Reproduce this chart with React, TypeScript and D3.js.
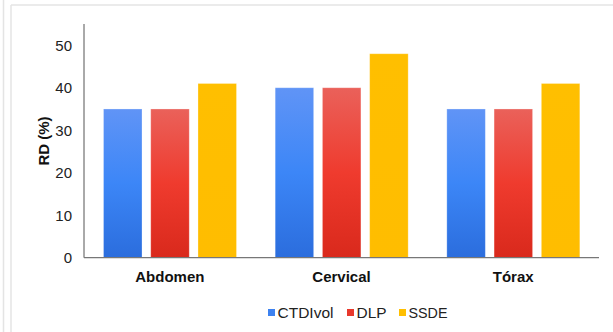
import React from "react";
import * as d3 from "d3";

const categories = ["Abdomen", "Cervical", "Tórax"];
const seriesNames = ["CTDIvol", "DLP", "SSDE"];
const ctdivol = [35, 40, 35];
const dlp = [35, 40, 35];
const ssde = [41, 48, 41];
const yTicks = [0, 10, 20, 30, 40, 50];

const values = [ctdivol, dlp, ssde];
const fills = ["url(#gBlue)", "url(#gRed)", "url(#gYellow)"];
const legendColors = ["#3d82f0", "#e8382c", "#ffbf00"];

export default function App() {
  const W = 613, H = 332;
  const left = 84, right = 599, top = 24, base = 257.7;
  const x0 = d3.scaleBand<string>().domain(categories).range([left, right]).paddingInner(0).paddingOuter(0);
  const x1 = d3.scaleBand<string>().domain(seriesNames).range([19.5, 152.5]).paddingInner(0.185).paddingOuter(0);
  const y = d3.scaleLinear().domain([0, 55]).range([base, top]);
  const font = "'Liberation Sans', Arial, Helvetica, sans-serif";

  const legendX = [268, 347, 399];
  const legendTextW = [56, 30, 39];

  return (
    <svg width={W} height={H} style={{ position: "absolute", left: 0, top: 0, background: "#fff" }} fontFamily={font}>
      <defs>
        <linearGradient id="gBlue" x1="0" y1="0" x2="0" y2="1">
          <stop offset="0" stopColor="#6094f6" />
          <stop offset="0.5" stopColor="#3c86f7" />
          <stop offset="1" stopColor="#2b6ddd" />
        </linearGradient>
        <linearGradient id="gRed" x1="0" y1="0" x2="0" y2="1">
          <stop offset="0" stopColor="#ea615a" />
          <stop offset="0.5" stopColor="#ef3b2e" />
          <stop offset="1" stopColor="#d9291c" />
        </linearGradient>
        <linearGradient id="gYellow" x1="0" y1="0" x2="0" y2="1">
          <stop offset="0" stopColor="#ffbf00" />
          <stop offset="1" stopColor="#ffbd00" />
        </linearGradient>
      </defs>
      {/* frame lines */}
      <line x1={3.5} y1={0} x2={3.5} y2={H} stroke="#e4e4e4" strokeWidth={1.5} />
      <line x1={11} y1={5} x2={11} y2={H} stroke="#e4e4e4" strokeWidth={1.5} />
      <line x1={11} y1={5} x2={W} y2={5} stroke="#e4e4e4" strokeWidth={1.5} />

      {/* bars */}
      {categories.map((c, ci) => (
        <g key={c} transform={`translate(${x0(c)},0)`}>
          {seriesNames.map((s, si) => {
            const v = values[si][ci];
            return (
              <rect
                key={s}
                x={x1(s)}
                y={y(v)}
                width={x1.bandwidth()}
                height={base - y(v)}
                fill={fills[si]}
                stroke="rgba(255,255,255,0.35)"
                strokeWidth={0.8}
              />
            );
          })}
        </g>
      ))}

      {/* axes */}
      <line x1={left} y1={top} x2={left} y2={base} stroke="#555" strokeWidth={1} />
      <line x1={left} y1={base} x2={right} y2={base} stroke="#777" strokeWidth={1.2} />

      {yTicks.map((t) => (
        <text key={t} x={72} y={y(t)} dy="0.36em" textAnchor="end" fontSize={15} fill="#222">
          {t}
        </text>
      ))}

      <text
        transform={`translate(49,141) rotate(-90)`}
        textAnchor="middle"
        fontSize={15}
        fontWeight="bold"
        fill="#111"
      >
        RD (%)
      </text>

      {categories.map((c) => (
        <text key={c} x={(x0(c) as number) + x0.bandwidth() / 2} y={282} textAnchor="middle" fontSize={15} fontWeight="bold" fill="#111">
          {c}
        </text>
      ))}

      {/* legend */}
      {seriesNames.map((s, i) => (
        <g key={s}>
          <rect x={legendX[i]} y={309} width={7} height={7} fill={legendColors[i]} />
          <text x={legendX[i] + 9.5} y={318} fontSize={15} fill="#222" textLength={legendTextW[i]} lengthAdjust="spacingAndGlyphs">
            {s}
          </text>
        </g>
      ))}
    </svg>
  );
}
